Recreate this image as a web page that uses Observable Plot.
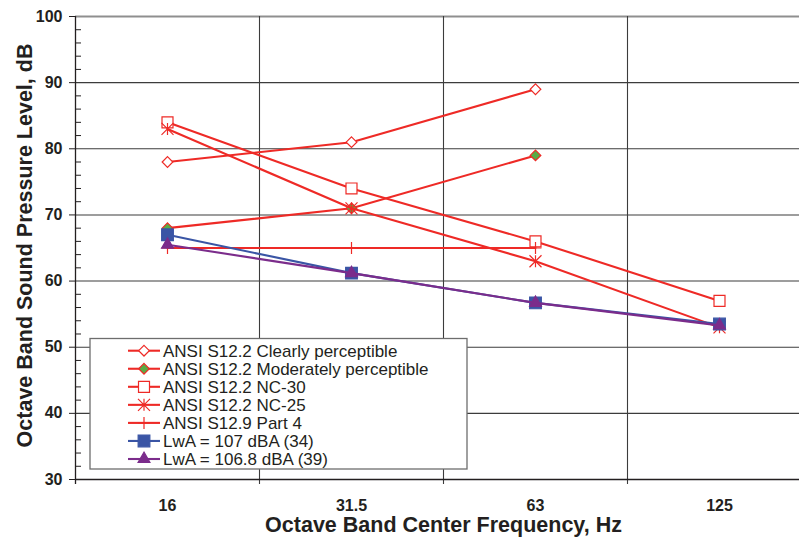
<!DOCTYPE html>
<html><head><meta charset="utf-8">
<script src="https://cdn.jsdelivr.net/npm/d3@7"></script>
<script src="https://cdn.jsdelivr.net/npm/@observablehq/plot@0.6"></script>
<style>
body{margin:0;background:#fff;}
#chart{position:relative;width:799px;height:537px;overflow:hidden;}
</style></head><body><div id="chart"></div>
<script>
// ---- data ----
const categories = ["16", "31.5", "63", "125"];
const seriesNames = [
  "ANSI S12.2 Clearly perceptible",
  "ANSI S12.2 Moderately perceptible",
  "ANSI S12.2 NC-30",
  "ANSI S12.2 NC-25",
  "ANSI S12.9 Part 4",
  "LwA = 107 dBA (34)",
  "LwA = 106.8 dBA (39)"
];
const clearlyPerceptible    = [78, 81, 89, null];
const moderatelyPerceptible = [68, 71, 79, null];
const nc30                  = [84, 74, 66, 57];
const nc25                  = [83, 71, 63, 53];
const part4                 = [65, 65, 65, null];
const lwa107                = [67, 61.2, 56.7, 53.5];
const lwa1068               = [65.5, 61.2, 56.7, 53.3];
const yTicks = [30, 40, 50, 60, 70, 80, 90, 100];
const yMinorTicks = [32,34,36,38,42,44,46,48,52,54,56,58,62,64,66,68,72,74,76,78,82,84,86,88,92,94,96,98];
const xTitle = "Octave Band Center Frequency, Hz";
const yTitle = "Octave Band Sound Pressure Level, dB";

// ---- styles ----
const RED = "#ee2a26", BLUE = "#3a55a5", PURPLE = "#7b2c8b", GREEN = "#5aab46", INK = "#231f20";
const asteriskSym = {draw(ctx, size) {
  const r = Math.sqrt(size / Math.PI);
  ctx.moveTo(0, -r); ctx.lineTo(0, r);
  ctx.moveTo(-r, -r); ctx.lineTo(r, r);
  ctx.moveTo(-r, r); ctx.lineTo(r, -r);
}};
const plusSym = {draw(ctx, size) {
  const r = Math.sqrt(size / Math.PI);
  ctx.moveTo(0, -r); ctx.lineTo(0, r);
  ctx.moveTo(-r, 0); ctx.lineTo(r, 0);
}};
const seriesValues = [clearlyPerceptible, moderatelyPerceptible, nc30, nc25, part4, lwa107, lwa1068];
const seriesStyle = [
  {stroke: RED, symbol: d3.symbolDiamond2, fill: "white", mstroke: RED, r: 4.8},
  {stroke: RED, symbol: d3.symbolDiamond2, fill: GREEN, mstroke: RED, r: 4.8},
  {stroke: RED, symbol: d3.symbolSquare, fill: "white", mstroke: RED, r: 6.2},
  {stroke: RED, symbol: asteriskSym, fill: "none", mstroke: RED, r: 6},
  {stroke: RED, symbol: plusSym, fill: "none", mstroke: RED, r: 6},
  {stroke: BLUE, symbol: d3.symbolSquare, fill: BLUE, mstroke: BLUE, r: 6.6},
  {stroke: PURPLE, symbol: d3.symbolTriangle, fill: PURPLE, mstroke: PURPLE, r: 4.4}
];

const seriesMarks = [];
seriesNames.forEach((name, s) => {
  const rows = seriesValues[s].map((v, i) => ({x: i, y: v})).filter(d => d.y != null);
  const st = seriesStyle[s];
  seriesMarks.push(Plot.line(rows, {x: "x", y: "y", stroke: st.stroke, strokeWidth: 2.1}));
  seriesMarks.push(Plot.dot(rows, {x: "x", y: "y", symbol: () => st.symbol, r: st.r,
    fill: st.fill, stroke: st.mstroke, strokeWidth: 1.2}));
});

const boundaries = categories.map((c, i) => i - 0.5);
const font = "'Liberation Sans', Arial, Helvetica, sans-serif";

const svg = Plot.plot({
  width: 799, height: 537,
  marginLeft: 75, marginTop: 16, marginBottom: 58, marginRight: 0,
  style: {fontFamily: font, color: INK, background: "white", overflow: "hidden"},
  x: {domain: [-0.5, categories.length - 0.5], range: [75, 811], axis: null},
  y: {domain: [30, 100], axis: null},
  symbol: {type: "identity"},
  marks: [
    Plot.gridY(yTicks.filter(v => v > 30 && v < 100), {stroke: "#3c3c3c", strokeOpacity: 1, strokeWidth: 1.1}),
    Plot.ruleY([100], {stroke: "#8f8f8f", strokeWidth: 2}),
    Plot.ruleX(boundaries.slice(1), {stroke: "#3c3c3c", strokeWidth: 1.1, insetBottom: -5}),
    Plot.ruleX(boundaries.slice(0, 1), {stroke: INK, strokeWidth: 1.3, insetBottom: -5}),
    Plot.ruleY([30], {stroke: INK, strokeWidth: 1.3}),
    Plot.ruleY(yMinorTicks, {x1: -0.5, x2: -0.5, insetRight: -6, stroke: INK, strokeWidth: 1}),
    Plot.axisY({ticks: yTicks, tickSize: 6, tickPadding: 7, fontSize: 16, fontWeight: "bold", label: null}),
    Plot.axisX({ticks: categories.map((c, i) => i), tickFormat: i => categories[i], tickSize: 0,
      tickPadding: 20, fontSize: 16, fontWeight: "bold", label: null}),
    ...seriesMarks,
    Plot.text([xTitle], {text: d => d, x: () => (categories.length - 1) / 2, frameAnchor: "bottom",
      dy: 52, lineAnchor: "bottom", fontSize: 21.5, fontWeight: "bold", fill: INK}),
    Plot.text([yTitle], {text: d => d, frameAnchor: "left", dx: -43.5, dy: -2.5, rotate: -90,
      lineAnchor: "bottom", textAnchor: "middle", fontSize: 21.5, fontWeight: "bold", fill: INK})
  ]
});
document.getElementById("chart").appendChild(svg);

// ---- legend (inside plot area) ----
const root = d3.select(svg);
const lg = root.append("g").attr("class", "legend").attr("text-anchor", "start");
const box = {x: 90, y: 338.5, w: 377, h: 130.5};
lg.append("rect").attr("x", box.x).attr("y", box.y).attr("width", box.w).attr("height", box.h)
  .attr("fill", "white").attr("stroke", "#6d6d6d").attr("stroke-width", 1.3);
seriesNames.forEach((name, s) => {
  const st = seriesStyle[s];
  const cy = box.y + 12.2 + s * 18.05;
  const g = lg.append("g");
  g.append("line").attr("x1", 128).attr("x2", 160).attr("y1", cy).attr("y2", cy)
    .attr("stroke", st.stroke).attr("stroke-width", 2.1);
  g.append("path").attr("transform", `translate(144,${cy})`)
    .attr("d", d3.symbol(st.symbol, Math.PI * st.r * st.r)())
    .attr("fill", st.fill).attr("stroke", st.mstroke).attr("stroke-width", 1.2);
  g.append("text").attr("x", 163).attr("y", cy).attr("dy", "0.36em").attr("text-anchor", "start")
    .attr("font-family", font).attr("font-size", 17).attr("fill", INK).text(name);
});
</script></body></html>
